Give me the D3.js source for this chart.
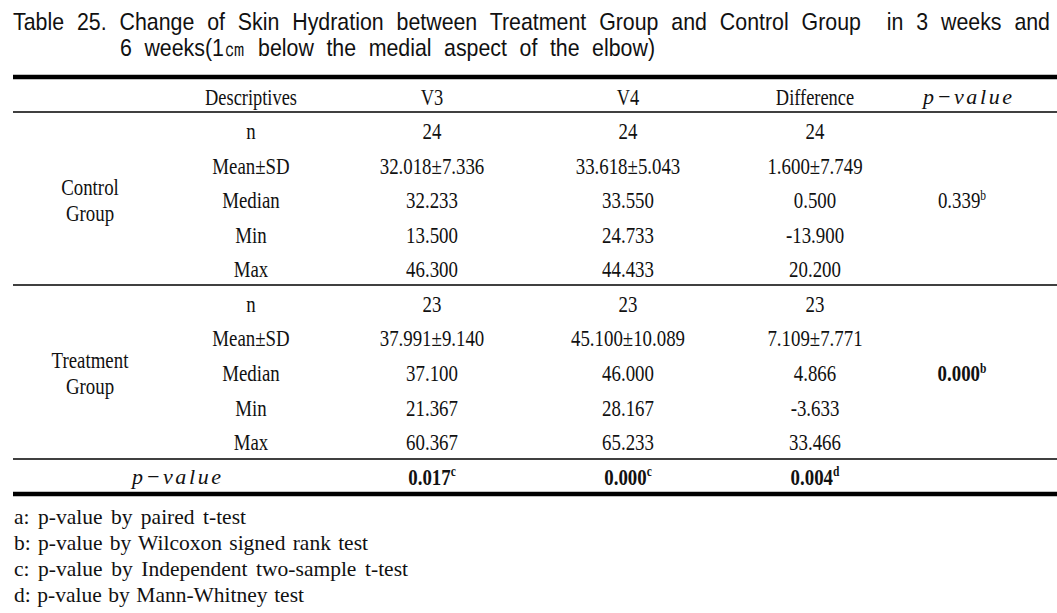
<!DOCTYPE html>
<html><head><meta charset="utf-8">
<script src="https://cdn.jsdelivr.net/npm/d3@7"></script>
<style>body{margin:0;background:#fff}svg{display:block}text{white-space:pre}</style>
</head><body>
<script>
// ---- data ----
const titleLines = ["Table 25. Change of Skin Hydration between Treatment Group and Control Group  in 3 weeks and",
                    "6 weeks(1㎝ below the medial aspect of the elbow)"];
const headers = ["Descriptives", "V3", "V4", "Difference"];
const pHeader = "p−value";
const groups = [["Control", "Group"], ["Treatment", "Group"]];
const descriptives = ["n", "Mean±SD", "Median", "Min", "Max"];
const controlV3 = ["24", "32.018±7.336", "32.233", "13.500", "46.300"];
const controlV4 = ["24", "33.618±5.043", "33.550", "24.733", "44.433"];
const controlDiff = ["24", "1.600±7.749", "0.500", "-13.900", "20.200"];
const treatV3 = ["23", "37.991±9.140", "37.100", "21.367", "60.367"];
const treatV4 = ["23", "45.100±10.089", "46.000", "28.167", "65.233"];
const treatDiff = ["23", "7.109±7.771", "4.866", "-3.633", "33.466"];
const groupP = [{v: "0.339", sup: "b", bold: false}, {v: "0.000", sup: "b", bold: true}];
const betweenP = [{v: "0.017", sup: "c"}, {v: "0.000", sup: "c"}, {v: "0.004", sup: "d"}];
const footnotes = ["a: p-value by paired t-test",
                   "b: p-value by Wilcoxon signed rank test",
                   "c: p-value by Independent two-sample t-test",
                   "d: p-value by Mann-Whitney test"];

// ---- layout ----
const W = 1057, H = 613;
const svg = d3.select("body").append("svg").attr("width", W).attr("height", H);
const x = d3.scaleOrdinal().domain(["group", "desc", "V3", "V4", "Diff", "p"])
  .range([90, 251, 432, 628, 815, 962]);
const y = d3.scaleLinear().domain([0, 9]).range([131, 442]);
const pitch = y(1) - y(0);
const serif = "'Liberation Serif','Times New Roman',serif";
const sans = "'Liberation Sans',Arial,sans-serif";
const SX = 0.82, FS = 23;

function cell(cx, cy, txt, opts = {}) {
  const t = svg.append("text")
    .attr("transform", `translate(${cx},${cy}) scale(${opts.sx || SX},1)`)
    .attr("text-anchor", opts.anchor || "middle")
    .attr("dy", "0.35em")
    .attr("font-family", serif)
    .attr("font-size", opts.fs || FS)
    .attr("font-weight", opts.bold ? "bold" : "normal")
    .attr("fill", "#111");
  t.append("tspan").text(txt);
  if (opts.sup) t.append("tspan").attr("font-size", 14).attr("dy", "-0.6em").text(opts.sup);
  return t;
}

// text spread to a target width by widening word gaps, glyphs condensed by sx
function spread(x0, y0, txt, target, family, fs, sx) {
  const t = svg.append("text")
    .attr("transform", `translate(${x0},${y0}) scale(${sx},1)`)
    .attr("font-family", family).attr("font-size", fs).attr("fill", "#111").text(txt);
  const nat = t.node().getComputedTextLength();
  const gaps = (txt.match(/ /g) || []).length;
  if (gaps) t.attr("word-spacing", (target / sx - nat) / gaps);
  return t;
}

// title
spread(13, 30, titleLines[0], 1037, sans, 24, 0.89);
spread(120, 56, titleLines[1], 535, sans, 24, 0.89);

// rules
const rules = [{y: 77, w: 4.5}, {y: 112, w: 1.5}, {y: 285, w: 1.5}, {y: 459, w: 1.5}, {y: 494, w: 4.5}];
svg.selectAll("line.rule").data(rules).join("line").attr("class", "rule")
  .attr("x1", 13).attr("x2", W).attr("y1", d => d.y).attr("y2", d => d.y)
  .attr("stroke", "#000").attr("stroke-width", d => d.w);

// header
const hy = y(0) - pitch;
["desc", "V3", "V4", "Diff"].forEach((k, i) => cell(x(k), hy, headers[i], {sx: 0.8}));
svg.append("text").attr("x", 923).attr("y", hy).attr("dy", "0.35em").attr("font-family", serif)
  .attr("font-style", "italic").attr("font-size", 22).attr("textLength", 89).attr("lengthAdjust", "spacing")
  .attr("fill", "#111").text(pHeader);

// body
const cols = [[controlV3, controlV4, controlDiff], [treatV3, treatV4, treatDiff]];
groups.forEach((g, gi) => {
  const midY = y(gi * 5 + 2);
  cell(x("group"), midY - 13, g[0]);
  cell(x("group"), midY + 13, g[1]);
  descriptives.forEach((d, ri) => {
    const ry = y(gi * 5 + ri);
    cell(x("desc"), ry, d);
    ["V3", "V4", "Diff"].forEach((k, ci) => cell(x(k), ry, cols[gi][ci][ri]));
  });
  cell(x("p"), midY, groupP[gi].v, {sup: groupP[gi].sup, bold: groupP[gi].bold});
});

// between-group p-values
const py = y(9) + pitch;
svg.append("text").attr("x", 132).attr("y", py).attr("dy", "0.35em").attr("font-family", serif)
  .attr("font-style", "italic").attr("font-size", 22).attr("textLength", 89).attr("lengthAdjust", "spacing")
  .attr("fill", "#111").text(pHeader);
["V3", "V4", "Diff"].forEach((k, i) => cell(x(k), py, betweenP[i].v, {sup: betweenP[i].sup, bold: true}));

// footnotes
const fnLen = [232, 354, 394, 290];
footnotes.forEach((d, i) => spread(14, 524 + i * 26, d, fnLen[i], serif, 21.5, 1.0));
</script>
</body></html>
